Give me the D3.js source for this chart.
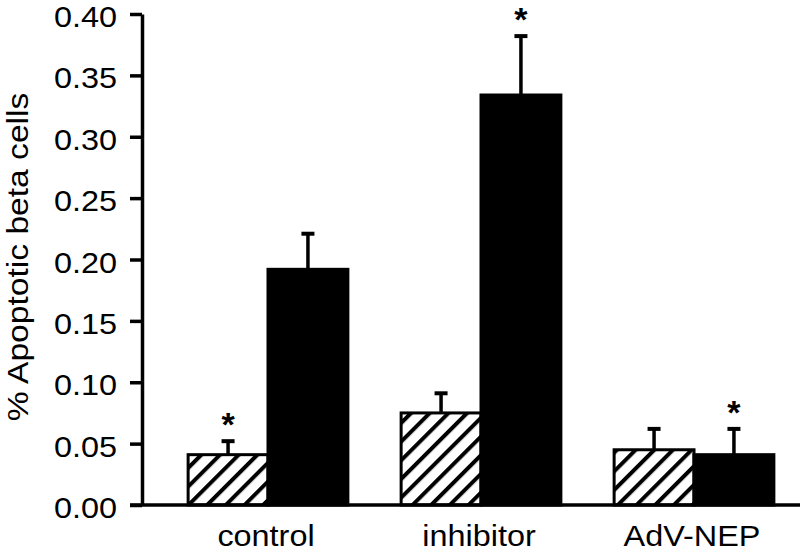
<!DOCTYPE html>
<html><head><meta charset="utf-8">
<script src="https://cdn.jsdelivr.net/npm/d3@7"></script>
<style>body{margin:0;background:#fff}svg{display:block}text{font-family:"Liberation Sans",Arial,sans-serif;fill:#000}</style>
</head><body><svg id="c" width="800" height="552"></svg>
<script>
const categories = ["control", "inhibitor", "AdV-NEP"];
const series = ["hatched", "solid"];
const hatchedMean = [0.041, 0.075, 0.045];
const hatchedErr  = [0.011, 0.016, 0.017];
const solidMean   = [0.192, 0.334, 0.041];
const solidErr    = [0.029, 0.048, 0.021];
const hatchedStar = [true, false, false];
const solidStar   = [false, true, true];
const yTicks = [0, 0.05, 0.10, 0.15, 0.20, 0.25, 0.30, 0.35, 0.40];
const yLabel = "% Apoptotic beta cells";

const svg = d3.select("#c");
const defs = svg.append("defs");
const pw = 13.2;
const pat = defs.append("pattern").attr("id","hatch").attr("patternUnits","userSpaceOnUse")
  .attr("width",pw).attr("height",pw).attr("patternTransform","rotate(45)");
pat.append("rect").attr("width",pw).attr("height",pw).attr("fill","#fff");
pat.append("line").attr("x1",2).attr("x2",2).attr("y1",0).attr("y2",pw).attr("stroke","#000").attr("stroke-width",4);

const y = d3.scaleLinear().domain([0,0.4]).range([505,14]);
const x0 = d3.scaleBand().domain(categories).range([161.5,800.5]).paddingInner(0.25).paddingOuter(0.125);
const x1 = d3.scaleBand().domain(series).range([0,x0.bandwidth()]);

const data = [];
categories.forEach((c,i)=>{
  data.push({cat:c, s:"hatched", v:hatchedMean[i], e:hatchedErr[i], star:hatchedStar[i]});
  data.push({cat:c, s:"solid", v:solidMean[i], e:solidErr[i], star:solidStar[i]});
});

const g = svg.append("g");
// error bars
data.forEach(d=>{
  const cx = x0(d.cat)+x1(d.s)+x1.bandwidth()/2;
  g.append("line").attr("x1",cx).attr("x2",cx).attr("y1",y(d.v)).attr("y2",y(d.v+d.e)).attr("stroke","#000").attr("stroke-width",3.5);
  g.append("line").attr("x1",cx-6.5).attr("x2",cx+6.5).attr("y1",y(d.v+d.e)).attr("y2",y(d.v+d.e)).attr("stroke","#000").attr("stroke-width",4);
  if(d.star){
    g.append("text").attr("x",cx).attr("y",y(d.v+d.e)-5).attr("text-anchor","middle")
      .attr("font-size",34).attr("font-weight","bold").text("*");
  }
});
// bars
g.selectAll("rect.bar").data(data).enter().append("rect").attr("class","bar")
  .attr("x",d=>x0(d.cat)+x1(d.s)).attr("width",x1.bandwidth())
  .attr("y",d=>y(d.v)).attr("height",d=>y(0)-y(d.v))
  .attr("fill",d=>d.s==="hatched"?"url(#hatch)":"#000")
  .attr("stroke","#000").attr("stroke-width",3);

// y axis
const ya = svg.append("g").attr("transform","translate(142,0)")
  .call(d3.axisLeft(y).tickValues(yTicks).tickFormat(d3.format(".2f")).tickSize(12).tickSizeOuter(0));
ya.select(".domain").attr("stroke-width",3.5);
ya.selectAll(".tick line").attr("stroke-width",3.5);
ya.selectAll(".tick text").attr("font-size",30).attr("x",-25).attr("dy","0.42em")
  .attr("font-family","'Liberation Sans',Arial,sans-serif")
  .attr("transform","translate(-25,0) scale(1.08,1) translate(25,0)");

// x axis line
svg.append("line").attr("x1",130).attr("x2",800).attr("y1",y(0)).attr("y2",y(0)).attr("stroke","#000").attr("stroke-width",3.5);

// x labels
categories.forEach(c=>{
  const cx = x0(c)+x0.bandwidth()/2 - 2;
  svg.append("text").attr("transform",`translate(${cx},546) scale(1.08,1)`).attr("text-anchor","middle")
    .attr("font-size",30).text(c);
});

// y label
svg.append("text").attr("transform","translate(28,257) rotate(-90) scale(1.12,1)").attr("text-anchor","middle")
  .attr("font-size",30).text(yLabel);
</script></body></html>
